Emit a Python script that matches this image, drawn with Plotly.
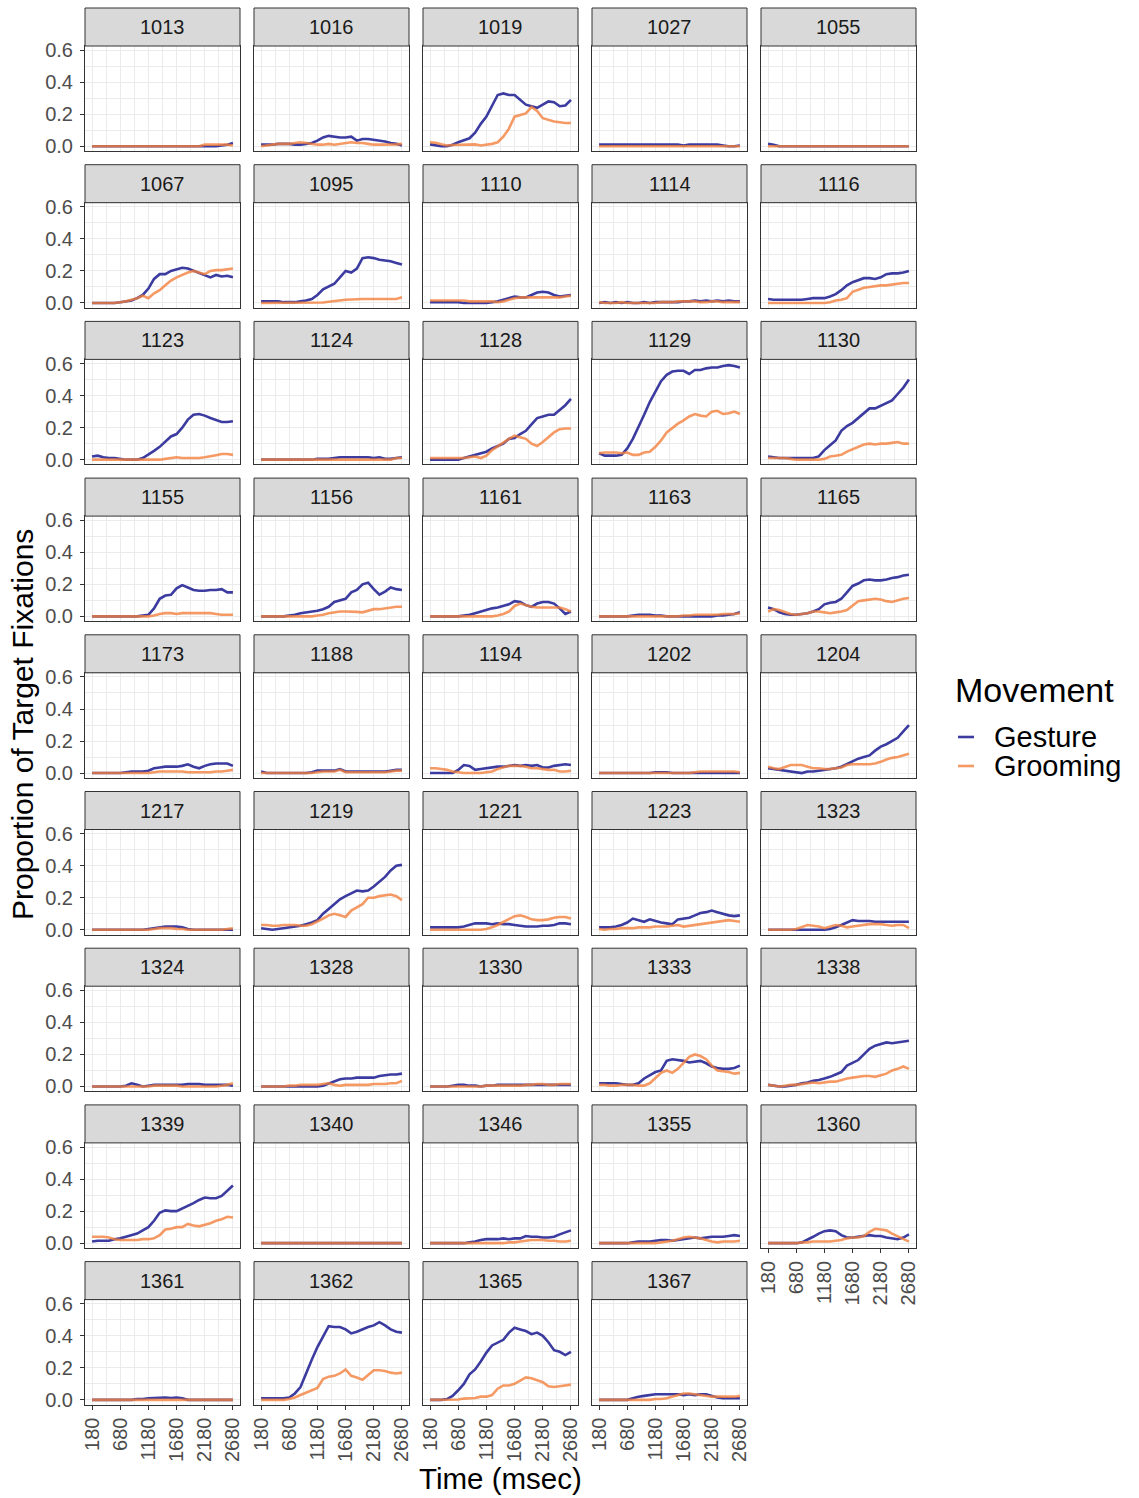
import plotly.graph_objects as go

# ---------------- data ----------------
times = [180, 280, 380, 480, 580, 680, 780, 880, 980, 1080, 1180, 1280, 1380,
         1480, 1580, 1680, 1780, 1880, 1980, 2080, 2180, 2280, 2380, 2480, 2580, 2680]

subjects = ["1013", "1016", "1019", "1027", "1055",
            "1067", "1095", "1110", "1114", "1116",
            "1123", "1124", "1128", "1129", "1130",
            "1155", "1156", "1161", "1163", "1165",
            "1173", "1188", "1194", "1202", "1204",
            "1217", "1219", "1221", "1223", "1323",
            "1324", "1328", "1330", "1333", "1338",
            "1339", "1340", "1346", "1355", "1360",
            "1361", "1362", "1365", "1367"]

gesture = {
    "1013": [0,0,0,0,0,0,0,0,0,0,0,0,0,0,0,0,0,0,0,0,0,0,0,0.005,0.01,0.02],
    "1016": [0.01,0.01,0.01,0.015,0.015,0.015,0.01,0.01,0.015,0.02,0.035,0.055,0.065,0.06,0.055,0.055,0.06,0.035,0.045,0.045,0.04,0.035,0.03,0.02,0.015,0.005],
    "1019": [0.012,0.005,0,0,0.01,0.025,0.04,0.05,0.085,0.14,0.185,0.25,0.32,0.33,0.32,0.32,0.29,0.26,0.25,0.24,0.26,0.28,0.275,0.25,0.255,0.29],
    "1027": [0.01,0.01,0.01,0.01,0.01,0.01,0.01,0.01,0.01,0.01,0.01,0.01,0.01,0.01,0.01,0.005,0.01,0.01,0.01,0.01,0.01,0.01,0.005,0,0,0.005],
    "1055": [0.015,0.01,0,0,0,0,0,0,0,0,0,0,0,0,0,0,0,0,0,0,0,0,0,0,0,0],
    "1067": [0,0,0,0,0,0.005,0.01,0.015,0.03,0.05,0.09,0.15,0.18,0.18,0.2,0.21,0.22,0.215,0.2,0.19,0.175,0.16,0.175,0.165,0.17,0.16],
    "1095": [0.01,0.01,0.01,0.01,0.005,0.005,0.005,0.01,0.015,0.025,0.05,0.085,0.1,0.12,0.16,0.2,0.19,0.215,0.28,0.285,0.28,0.27,0.265,0.26,0.25,0.24],
    "1110": [0.005,0.005,0.005,0.005,0.005,0.005,0,0,0,0,0,0.005,0.01,0.02,0.03,0.04,0.035,0.035,0.05,0.065,0.07,0.065,0.05,0.04,0.045,0.05],
    "1114": [0,0.005,0,0.005,0,0.005,0,0,0.005,0,0.005,0.005,0.005,0.005,0.005,0.01,0.01,0.015,0.01,0.015,0.01,0.015,0.01,0.015,0.01,0.01],
    "1116": [0.025,0.02,0.02,0.02,0.02,0.02,0.02,0.025,0.03,0.03,0.03,0.04,0.055,0.08,0.11,0.13,0.145,0.155,0.155,0.15,0.16,0.18,0.185,0.185,0.19,0.2],
    "1123": [0.02,0.025,0.015,0.01,0.01,0.005,0,0,0,0.01,0.03,0.055,0.08,0.11,0.145,0.16,0.2,0.25,0.28,0.285,0.275,0.26,0.245,0.235,0.235,0.24],
    "1124": [0,0,0,0,0,0,0,0,0,0,0.005,0.005,0.005,0.01,0.015,0.015,0.015,0.015,0.015,0.015,0.01,0.015,0.005,0.005,0.01,0.015],
    "1128": [0,0,0,0,0,0,0.01,0.02,0.03,0.04,0.05,0.07,0.085,0.1,0.13,0.135,0.16,0.18,0.22,0.26,0.27,0.28,0.28,0.31,0.34,0.38],
    "1129": [0.04,0.025,0.025,0.025,0.03,0.07,0.13,0.2,0.28,0.36,0.43,0.49,0.53,0.55,0.555,0.555,0.535,0.56,0.56,0.57,0.575,0.575,0.585,0.59,0.585,0.575],
    "1130": [0.02,0.015,0.01,0.01,0.01,0.01,0.01,0.01,0.01,0.02,0.06,0.09,0.12,0.18,0.21,0.23,0.26,0.29,0.32,0.32,0.335,0.355,0.37,0.41,0.45,0.5],
    "1155": [0,0,0,0,0,0,0,0,0,0.005,0.01,0.05,0.11,0.13,0.135,0.175,0.195,0.18,0.165,0.16,0.16,0.165,0.165,0.17,0.15,0.15],
    "1156": [0,0,0,0,0,0.005,0.01,0.02,0.025,0.03,0.035,0.045,0.06,0.09,0.1,0.11,0.15,0.165,0.2,0.21,0.17,0.135,0.155,0.18,0.17,0.165],
    "1161": [0,0,0,0,0,0,0.005,0.01,0.02,0.03,0.04,0.05,0.055,0.065,0.075,0.095,0.09,0.07,0.06,0.08,0.09,0.09,0.08,0.05,0.015,0.03],
    "1163": [0,0,0,0,0,0,0.005,0.01,0.01,0.01,0.005,0.005,0,0,0,0,0,0,0,0,0,0.005,0.005,0.01,0.015,0.025],
    "1165": [0.055,0.045,0.025,0.015,0.01,0.01,0.015,0.02,0.03,0.045,0.075,0.085,0.09,0.11,0.15,0.19,0.205,0.225,0.23,0.225,0.225,0.23,0.24,0.245,0.255,0.26],
    "1173": [0,0,0,0,0,0,0.005,0.01,0.01,0.01,0.015,0.03,0.035,0.04,0.04,0.04,0.045,0.055,0.04,0.03,0.045,0.055,0.06,0.06,0.06,0.045],
    "1188": [0.01,0,0,0,0,0,0,0,0,0.005,0.015,0.015,0.015,0.015,0.025,0.01,0.01,0.01,0.01,0.01,0.01,0.01,0.01,0.015,0.02,0.02],
    "1194": [0,0,0,0,0,0.02,0.05,0.045,0.02,0.025,0.03,0.035,0.04,0.04,0.045,0.05,0.045,0.05,0.045,0.05,0.035,0.035,0.045,0.05,0.055,0.05],
    "1202": [0,0,0,0,0,0,0,0,0,0,0.005,0.005,0.005,0,0,0,0,0,0,0,0,0,0,0,0,0],
    "1204": [0.03,0.025,0.02,0.015,0.01,0.005,0,0.01,0.01,0.015,0.02,0.025,0.03,0.04,0.055,0.075,0.09,0.1,0.11,0.14,0.165,0.18,0.2,0.22,0.26,0.3],
    "1217": [0,0,0,0,0,0,0,0,0,0,0.005,0.01,0.015,0.02,0.02,0.02,0.015,0.005,0,0,0,0,0,0,0,0],
    "1219": [0.01,0.005,0,0.005,0.01,0.015,0.02,0.025,0.035,0.045,0.06,0.1,0.13,0.16,0.19,0.21,0.225,0.245,0.24,0.245,0.27,0.3,0.33,0.37,0.4,0.405],
    "1221": [0.015,0.015,0.015,0.015,0.015,0.015,0.02,0.03,0.04,0.04,0.04,0.035,0.04,0.035,0.035,0.03,0.025,0.02,0.02,0.02,0.025,0.025,0.03,0.04,0.04,0.035],
    "1223": [0.015,0.015,0.015,0.02,0.03,0.045,0.07,0.06,0.05,0.065,0.055,0.045,0.04,0.035,0.065,0.07,0.075,0.09,0.105,0.11,0.12,0.11,0.1,0.09,0.085,0.09],
    "1323": [0,0,0,0,0,0,0,0,0,0,0,0.005,0.015,0.03,0.045,0.06,0.055,0.055,0.055,0.05,0.05,0.05,0.05,0.05,0.05,0.05],
    "1324": [0,0,0,0,0,0,0.005,0.02,0.01,0,0.005,0.01,0.01,0.01,0.01,0.01,0.01,0.015,0.015,0.015,0.01,0.01,0.01,0.01,0.01,0.005],
    "1328": [0,0,0,0,0,0,0,0,0,0,0,0.005,0.02,0.035,0.045,0.05,0.05,0.055,0.055,0.055,0.055,0.065,0.07,0.075,0.075,0.08],
    "1330": [0,0,0,0,0.005,0.01,0.01,0.005,0.005,0,0.005,0.005,0.01,0.01,0.01,0.01,0.01,0.01,0.01,0.01,0.01,0.01,0.01,0.01,0.01,0.01],
    "1333": [0.02,0.02,0.02,0.02,0.015,0.01,0.01,0.02,0.05,0.07,0.09,0.1,0.16,0.17,0.165,0.16,0.15,0.155,0.16,0.145,0.125,0.115,0.11,0.11,0.115,0.13],
    "1338": [0.01,0.005,0,0,0.005,0.01,0.02,0.025,0.035,0.04,0.05,0.06,0.075,0.09,0.13,0.145,0.165,0.2,0.235,0.255,0.265,0.275,0.27,0.275,0.28,0.285],
    "1339": [0.01,0.015,0.015,0.015,0.025,0.03,0.04,0.05,0.06,0.08,0.1,0.14,0.19,0.205,0.2,0.2,0.215,0.235,0.25,0.27,0.285,0.28,0.28,0.295,0.325,0.36],
    "1340": [0,0,0,0,0,0,0,0,0,0,0,0,0,0,0,0,0,0,0,0,0,0,0,0,0,0],
    "1346": [0,0,0,0,0,0,0,0.005,0.01,0.02,0.025,0.025,0.025,0.03,0.025,0.03,0.03,0.045,0.04,0.04,0.035,0.035,0.04,0.055,0.07,0.08],
    "1355": [0,0,0,0,0,0,0.005,0.01,0.01,0.01,0.015,0.02,0.02,0.015,0.02,0.025,0.03,0.035,0.03,0.035,0.04,0.04,0.04,0.045,0.05,0.045],
    "1360": [0,0,0,0,0,0,0.005,0.02,0.04,0.06,0.075,0.08,0.075,0.05,0.035,0.035,0.04,0.045,0.05,0.045,0.045,0.035,0.03,0.025,0.035,0.055],
    "1361": [0,0,0,0,0,0,0,0,0.005,0.005,0.01,0.012,0.015,0.015,0.012,0.015,0.01,0,0,0,0,0,0,0,0,0],
    "1362": [0.01,0.01,0.01,0.01,0.01,0.015,0.04,0.08,0.17,0.25,0.33,0.4,0.46,0.455,0.455,0.44,0.415,0.425,0.44,0.455,0.465,0.485,0.465,0.44,0.425,0.42],
    "1365": [0,0,0,0.005,0.025,0.06,0.1,0.16,0.19,0.24,0.295,0.34,0.36,0.375,0.42,0.45,0.44,0.43,0.41,0.42,0.4,0.36,0.31,0.3,0.28,0.3],
    "1367": [0,0,0,0,0,0,0.01,0.02,0.025,0.03,0.035,0.035,0.035,0.035,0.035,0.03,0.035,0.03,0.035,0.035,0.025,0.015,0.01,0.01,0.01,0.01],
}

grooming = {
    "1013": [0,0,0,0,0,0,0,0,0,0,0,0,0,0,0,0,0,0,0,0,0.01,0.01,0.01,0.01,0.01,0.005],
    "1016": [0,0.005,0.01,0.015,0.015,0.015,0.02,0.025,0.02,0.015,0.01,0.01,0.015,0.01,0.015,0.02,0.025,0.02,0.02,0.015,0.01,0.01,0.01,0.01,0.012,0.015],
    "1019": [0.025,0.022,0.012,0.005,0.008,0.01,0.012,0.012,0.012,0.005,0.01,0.015,0.025,0.06,0.11,0.185,0.195,0.205,0.245,0.22,0.175,0.165,0.155,0.15,0.145,0.145],
    "1027": [0,0,0,0,0,0,0,0,0,0,0,0,0,0,0,0,0,0,0,0,0,0,0,0,0,0],
    "1055": [0,0,0,0,0,0,0,0,0,0,0,0,0,0,0,0,0,0,0,0,0,0,0,0,0,0],
    "1067": [0,0,0,0,0,0.005,0.01,0.02,0.03,0.045,0.03,0.06,0.08,0.11,0.14,0.16,0.175,0.19,0.2,0.19,0.18,0.2,0.205,0.205,0.21,0.215],
    "1095": [0,0,0,0,0,0,0,0,0,0,0,0.003,0.008,0.012,0.02,0.02,0.022,0.025,0.025,0.025,0.025,0.025,0.025,0.022,0.025,0.035],
    "1110": [0.015,0.015,0.015,0.015,0.015,0.015,0.015,0.01,0.01,0.01,0.01,0.01,0.005,0.01,0.02,0.03,0.035,0.035,0.035,0.035,0.035,0.035,0.035,0.035,0.04,0.045],
    "1114": [0.005,0,0,0,0.005,0,0,0,0,0,0,0.005,0.005,0.005,0.01,0.01,0.01,0.01,0.005,0.005,0.01,0.01,0.005,0.005,0.005,0.005],
    "1116": [0,0,0,0,0,0,0,0,0,0,0,0.005,0.015,0.02,0.03,0.07,0.085,0.095,0.1,0.105,0.11,0.11,0.115,0.12,0.125,0.125],
    "1123": [0,0,0,0,0,0,0,0,0,0,0,0,0,0.005,0.012,0.015,0.01,0.01,0.01,0.01,0.015,0.02,0.028,0.035,0.035,0.03],
    "1124": [0,0,0,0,0,0,0,0,0,0,0,0,0,0,0,0,0,0,0,0,0,0,0,0,0.01,0.01],
    "1128": [0.01,0.01,0.01,0.01,0.01,0.01,0.01,0.015,0.02,0.01,0.025,0.06,0.085,0.11,0.13,0.15,0.14,0.13,0.1,0.085,0.11,0.14,0.17,0.19,0.195,0.195],
    "1129": [0.04,0.045,0.045,0.045,0.04,0.045,0.03,0.03,0.045,0.05,0.08,0.12,0.17,0.2,0.225,0.245,0.27,0.285,0.275,0.27,0.3,0.305,0.285,0.29,0.3,0.285],
    "1130": [0.01,0.01,0.01,0.01,0.005,0,0,0,0,0,0.005,0.02,0.025,0.03,0.05,0.065,0.08,0.095,0.1,0.095,0.1,0.1,0.105,0.11,0.1,0.1],
    "1155": [0,0,0,0,0,0,0,0,0,0,0,0.005,0.015,0.02,0.02,0.015,0.02,0.02,0.02,0.02,0.02,0.02,0.015,0.01,0.01,0.01],
    "1156": [0,0,0,0,0,0,0,0,0,0,0.005,0.01,0.02,0.025,0.03,0.03,0.03,0.028,0.025,0.035,0.045,0.045,0.05,0.055,0.06,0.06],
    "1161": [0,0,0,0,0,0,0,0,0,0,0,0,0.005,0.015,0.03,0.065,0.08,0.07,0.06,0.055,0.055,0.055,0.055,0.055,0.045,0.03],
    "1163": [0,0,0,0,0,0,0,0,0,0,0,0,0,0,0,0.005,0.005,0.01,0.01,0.01,0.01,0.01,0.015,0.015,0.015,0.02],
    "1165": [0.03,0.045,0.04,0.025,0.015,0.01,0.015,0.02,0.03,0.03,0.025,0.02,0.025,0.03,0.04,0.07,0.095,0.1,0.105,0.11,0.105,0.095,0.09,0.1,0.11,0.115],
    "1173": [0,0,0,0,0,0,0,0,0,0,0,0.005,0.01,0.01,0.01,0.01,0.01,0.005,0.005,0.005,0.005,0.005,0.01,0.01,0.015,0.02],
    "1188": [0,0,0,0,0,0,0,0,0,0,0.005,0.01,0.01,0.01,0.02,0.005,0.005,0.005,0.005,0.005,0.005,0.005,0.005,0.01,0.015,0.015],
    "1194": [0.03,0.03,0.025,0.02,0.01,0.005,0,0,0,0,0.005,0.01,0.025,0.035,0.045,0.045,0.045,0.04,0.03,0.03,0.025,0.02,0.02,0.01,0.01,0.015],
    "1202": [0,0,0,0,0,0,0,0,0,0,0,0,0,0,0,0,0,0.005,0.01,0.01,0.01,0.01,0.01,0.01,0.01,0.005],
    "1204": [0.04,0.03,0.025,0.04,0.05,0.05,0.05,0.04,0.03,0.03,0.025,0.025,0.03,0.035,0.05,0.055,0.055,0.055,0.055,0.06,0.07,0.085,0.095,0.1,0.11,0.12],
    "1217": [0,0,0,0,0,0,0,0,0,0,0,0.005,0.01,0.01,0.01,0.005,0.005,0,0,0,0,0,0,0,0.005,0.01],
    "1219": [0.03,0.03,0.025,0.025,0.03,0.03,0.03,0.025,0.025,0.035,0.05,0.07,0.09,0.1,0.09,0.08,0.12,0.14,0.16,0.2,0.2,0.21,0.215,0.22,0.21,0.185],
    "1221": [0,0,0,0,0,0,0,0,0,0,0.005,0.015,0.03,0.05,0.07,0.085,0.09,0.08,0.065,0.06,0.06,0.065,0.075,0.08,0.08,0.07],
    "1223": [0.005,0,0.005,0.005,0.01,0.01,0.01,0.015,0.015,0.015,0.02,0.02,0.02,0.025,0.03,0.02,0.025,0.03,0.035,0.04,0.045,0.05,0.055,0.06,0.055,0.05],
    "1323": [0,0,0,0,0,0.005,0.02,0.03,0.025,0.02,0.01,0.02,0.03,0.025,0.015,0.02,0.025,0.03,0.035,0.035,0.035,0.03,0.025,0.03,0.03,0.01],
    "1324": [0,0,0,0,0,0,0,0,0,0,0,0.005,0.005,0.005,0.005,0.005,0,0,0,0,0,0,0,0.005,0.01,0.02],
    "1328": [0,0,0,0,0,0.005,0.005,0.01,0.01,0.01,0.01,0.015,0.02,0.01,0.005,0.01,0.01,0.01,0.01,0.01,0.015,0.015,0.015,0.02,0.02,0.035],
    "1330": [0,0,0,0,0,0,0,0,0,0,0.005,0.005,0.005,0.005,0.005,0.005,0.005,0.01,0.01,0.015,0.015,0.01,0.01,0.015,0.015,0.015],
    "1333": [0.01,0.01,0.005,0.005,0.01,0.01,0.01,0.005,0.005,0.02,0.05,0.085,0.1,0.085,0.11,0.15,0.185,0.2,0.19,0.17,0.13,0.1,0.095,0.09,0.08,0.085],
    "1338": [0.01,0.005,0,0.005,0.01,0.01,0.015,0.02,0.025,0.02,0.025,0.03,0.03,0.04,0.05,0.055,0.06,0.065,0.065,0.06,0.07,0.08,0.1,0.11,0.125,0.11],
    "1339": [0.04,0.04,0.04,0.035,0.025,0.02,0.02,0.02,0.02,0.025,0.025,0.03,0.05,0.085,0.09,0.1,0.1,0.12,0.11,0.105,0.115,0.125,0.14,0.15,0.165,0.16],
    "1340": [0,0,0,0,0,0,0,0,0,0,0,0,0,0,0,0,0,0,0,0,0,0,0,0,0,0],
    "1346": [0,0,0,0,0,0,0,0,0,0,0,0,0,0,0.005,0.005,0.01,0.015,0.02,0.02,0.02,0.015,0.015,0.01,0.01,0.015],
    "1355": [0,0,0,0,0,0,0,0,0,0,0,0.005,0.01,0.015,0.025,0.035,0.04,0.035,0.03,0.02,0.01,0.005,0.01,0.01,0.01,0.015],
    "1360": [0,0,0,0,0,0,0.005,0.005,0.01,0.01,0.01,0.01,0.015,0.02,0.03,0.035,0.035,0.045,0.07,0.09,0.085,0.08,0.06,0.045,0.025,0.01],
    "1361": [0,0,0,0,0,0,0,0,0,0,0,0,0,0,0,0,0,0,0,0,0,0,0,0,0,0],
    "1362": [0,0,0,0,0,0.005,0.015,0.03,0.045,0.055,0.075,0.13,0.145,0.15,0.165,0.19,0.15,0.14,0.125,0.155,0.185,0.185,0.18,0.17,0.165,0.17],
    "1365": [0,0,0,0,0,0.002,0.008,0.01,0.012,0.02,0.02,0.03,0.07,0.09,0.09,0.1,0.12,0.14,0.135,0.12,0.11,0.085,0.08,0.085,0.09,0.095],
    "1367": [0,0,0,0,0,0,0,0,0,0,0.005,0.005,0.01,0.02,0.03,0.04,0.04,0.035,0.03,0.025,0.02,0.02,0.02,0.02,0.02,0.025],
}

series_names = ["Gesture", "Grooming"]
x_tick_vals = [180, 680, 1180, 1680, 2180, 2680]
x_tick_text = ["180", "680", "1180", "1680", "2180", "2680"]
x_minor_vals = [430, 930, 1430, 1930, 2430]
y_tick_vals = [0.0, 0.2, 0.4, 0.6]
y_tick_text = ["0.0", "0.2", "0.4", "0.6"]
y_minor_vals = [0.1, 0.3, 0.5]

# ---------------- styling / layout ----------------
W, H = 1139, 1498
NCOL = 5
LEFT, PANEL_W, COL_STEP = 85, 155, 169
STRIP_TOP, PANEL_TOP, PANEL_BOT, ROW_STEP = 8, 46, 151, 156.7
X_RANGE = [55, 2805]
Y_RANGE = [-0.0295, 0.626]
BLUE = "#3B3BA0"
ORANGE = "rgba(242,129,61,0.8)"
FONT = "Liberation Sans, Arial, Helvetica, sans-serif"
GRID = "#EBEBEB"
BORDER = "#333333"
TICK_FONT = dict(family=FONT, size=20, color="#4D4D4D")


def px_x(p):
    return p / W


def px_y(p):
    return 1 - p / H


fig = go.Figure()
n_sub = len(subjects)
bottom_of_col = {}
for i in range(n_sub):
    bottom_of_col[i % NCOL] = i

shapes = []
annotations = []

for i, s in enumerate(subjects):
    r, c = divmod(i, NCOL)
    n = i + 1
    xref = "x" if n == 1 else f"x{n}"
    yref = "y" if n == 1 else f"y{n}"
    fig.add_trace(go.Scatter(x=times, y=gesture[s], mode="lines", name=series_names[0],
                             line=dict(color=BLUE, width=2.6), xaxis=xref, yaxis=yref,
                             showlegend=False, legendgroup="g"))
    fig.add_trace(go.Scatter(x=times, y=grooming[s], mode="lines", name=series_names[1],
                             line=dict(color=ORANGE, width=2.6), xaxis=xref, yaxis=yref,
                             showlegend=False, legendgroup="r"))

    x0 = LEFT + COL_STEP * c
    x1 = x0 + PANEL_W
    top = PANEL_TOP + ROW_STEP * r
    bot = PANEL_BOT + ROW_STEP * r
    stop = STRIP_TOP + ROW_STEP * r

    show_x = bottom_of_col[c] == i
    show_y = c == 0

    xa = dict(domain=[px_x(x0), px_x(x1)], range=X_RANGE, anchor=yref, automargin=False,
              tickmode="array", tickvals=x_tick_vals, ticktext=x_tick_text,
              showgrid=True, gridcolor=GRID, gridwidth=1.1, zeroline=False,
              minor=dict(tickmode="array", tickvals=x_minor_vals, showgrid=True,
                         gridcolor=GRID, gridwidth=0.6, ticks=""),
              showline=True, mirror=True, linecolor=BORDER, linewidth=1,
              showticklabels=show_x, ticks="outside" if show_x else "",
              ticklen=4, tickwidth=1, tickcolor=BORDER, tickangle=-90,
              tickfont=TICK_FONT)
    ya = dict(domain=[px_y(bot), px_y(top)], range=Y_RANGE, anchor=xref, automargin=False,
              tickmode="array", tickvals=y_tick_vals, ticktext=y_tick_text,
              showgrid=True, gridcolor=GRID, gridwidth=1.1, zeroline=False,
              minor=dict(tickmode="array", tickvals=y_minor_vals, showgrid=True,
                         gridcolor=GRID, gridwidth=0.6, ticks=""),
              showline=True, mirror=True, linecolor=BORDER, linewidth=1,
              showticklabels=show_y, ticks="outside" if show_y else "",
              ticklen=4, tickwidth=1, tickcolor=BORDER, ticklabelstandoff=3,
              tickfont=TICK_FONT)
    fig.update_layout({("xaxis" if n == 1 else f"xaxis{n}"): xa,
                       ("yaxis" if n == 1 else f"yaxis{n}"): ya})

    # facet strip
    shapes.append(dict(type="rect", xref="paper", yref="paper",
                       x0=px_x(x0), x1=px_x(x1), y0=px_y(top), y1=px_y(stop),
                       fillcolor="#D9D9D9", line=dict(color=BORDER, width=1), layer="above"))
    annotations.append(dict(text=s, xref="paper", yref="paper",
                            x=px_x((x0 + x1) / 2), y=px_y((top + stop) / 2),
                            xanchor="center", yanchor="middle", showarrow=False,
                            font=dict(family=FONT, size=20, color="#1A1A1A")))

# axis titles
annotations.append(dict(text="Time (msec)", xref="paper", yref="paper",
                        x=px_x(500), y=px_y(1478), xanchor="center", yanchor="middle",
                        showarrow=False, font=dict(family=FONT, size=29.5, color="black")))
annotations.append(dict(text="Proportion of Target Fixations", xref="paper", yref="paper",
                        x=px_x(22), y=px_y(725), xanchor="center", yanchor="middle",
                        textangle=-90, showarrow=False,
                        font=dict(family=FONT, size=30, color="black")))

# legend
annotations.append(dict(text="Movement", xref="paper", yref="paper",
                        x=px_x(953), y=px_y(690), xanchor="left", yanchor="middle",
                        showarrow=False, font=dict(family=FONT, size=34, color="black")))
for k, (nm, col) in enumerate(zip(series_names, [BLUE, ORANGE])):
    yy = 737 + 29 * k
    shapes.append(dict(type="line", xref="paper", yref="paper",
                       x0=px_x(958), x1=px_x(974), y0=px_y(yy), y1=px_y(yy),
                       line=dict(color=col, width=2.6)))
    annotations.append(dict(text=nm, xref="paper", yref="paper",
                            x=px_x(992), y=px_y(yy), xanchor="left", yanchor="middle",
                            showarrow=False, font=dict(family=FONT, size=29, color="black")))

fig.update_layout(width=W, height=H, margin=dict(l=0, r=0, t=0, b=0),
                  paper_bgcolor="white", plot_bgcolor="white",
                  showlegend=False, shapes=shapes, annotations=annotations,
                  font=dict(family=FONT))

fig.write_html("out.html",
               config={"displayModeBar": False},
               post_script="document.body.style.margin='0px';"
                           "document.body.style.overflow='hidden';")
